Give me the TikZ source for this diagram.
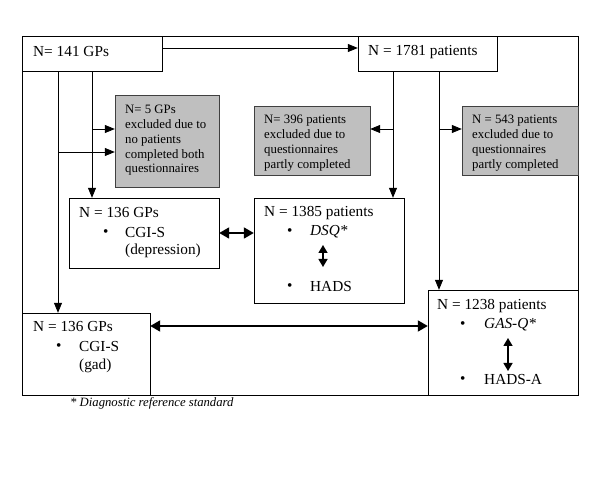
\documentclass[tikz,border=0pt]{standalone}
\usepackage{fontspec}
\setmainfont{Liberation Serif}
\usetikzlibrary{arrows.meta,calc}
\begin{document}
\begin{tikzpicture}[x=1pt,y=-1pt,
  box/.style={draw=black,line width=0.8pt,fill=white},
  greybox/.style={draw=black!75,line width=0.8pt,fill=black!25},
  mtxt/.style={anchor=west,inner sep=0pt,font=\fontsize{15.3}{18.5}\selectfont},
  gtxt/.style={anchor=north west,inner sep=0pt,align=left,font=\fontsize{12.8}{14.8}\selectfont},
  conn/.style={line width=0.8pt,-{Triangle[length=10pt,width=8pt]}},
  dbl/.style={line width=1.8pt,{Triangle[length=10pt,width=11pt]}-{Triangle[length=10pt,width=11pt]}},
  inner/.style={line width=1.4pt,{Triangle[length=8pt,width=9pt]}-{Triangle[length=8pt,width=9pt]}}]
\useasboundingbox (0,0) rectangle (600,478);
\fill[white] (0,0) rectangle (600,478);
% outer frame
\draw[line width=0.8pt] (22,36) rectangle (578,395);
% boxes
\draw[box] (22,36) rectangle (162,71);
\node[inner sep=0,minimum width=140pt,minimum height=35pt] (gps) at (92,53.5) {};
\node[mtxt] (gpst) at (33,52) {N= 141 GPs};
\draw[box] (358,36) rectangle (497,71);
\node[inner sep=0,minimum width=139pt,minimum height=35pt] (pat) at (427.5,53.5) {};
\node[mtxt] (patt) at (368,52) {N = 1781 patients};
% grey boxes
\draw[greybox] (115,95) rectangle (219,187);
\node[inner sep=0,minimum width=104pt,minimum height=92pt] (ex5) at (167,141) {};
\node[gtxt] (ex5t) at (125,105) {N= 5 GPs\\excluded due to\\no patients\\completed both\\questionnaires};
\draw[greybox] (254,106) rectangle (370,175);
\node[inner sep=0,minimum width=116pt,minimum height=69pt] (ex396) at (312,140.5) {};
\node[gtxt] (ex396t) at (264,115) {N= 396 patients\\excluded due to\\questionnaires\\partly completed};
\draw[greybox] (462,106) rectangle (578,175);
\node[inner sep=0,minimum width=116pt,minimum height=69pt] (ex543) at (520,140.5) {};
\node[gtxt] (ex543t) at (472,115) {N = 543 patients\\excluded due to\\questionnaires\\partly completed};
% middle boxes
\draw[box] (69,198) rectangle (219,268);
\node[inner sep=0,minimum width=150pt,minimum height=70pt] (dep) at (144,233) {};
\node[mtxt] (dept1) at (79,213) {N = 136 GPs};
\node[mtxt] (depb) at (103,233) {\textbullet};
\node[mtxt] (dept2) at (125,233) {CGI-S};
\node[mtxt] (dept3) at (125,251) {(depression)};
\draw[box] (254,198) rectangle (404,303);
\node[inner sep=0,minimum width=150pt,minimum height=105pt] (p1385) at (329,250.5) {};
\node[mtxt] (p1385t) at (264,213) {N = 1385 patients};
\node[mtxt] (p1385b1) at (287,232) {\textbullet};
\node[mtxt] (p1385t2) at (310,232) {\itshape DSQ*};
\node[mtxt] (p1385b2) at (287,287) {\textbullet};
\node[mtxt] (p1385t3) at (310,287) {HADS};
% bottom boxes
\draw[box] (22,313) rectangle (150,395);
\node[inner sep=0,minimum width=128pt,minimum height=82pt] (gad) at (86,354) {};
\node[mtxt] (gadt1) at (33,327) {N = 136 GPs};
\node[mtxt] (gadb) at (56,347) {\textbullet};
\node[mtxt] (gadt2) at (79,347) {CGI-S};
\node[mtxt] (gadt3) at (79,366) {(gad)};
\draw[box] (428,290) rectangle (578,395);
\node[inner sep=0,minimum width=150pt,minimum height=105pt] (p1238) at (503,342.5) {};
\node[mtxt] (p1238t) at (437,306) {N = 1238 patients};
\node[mtxt] (p1238b1) at (460,325) {\textbullet};
\node[mtxt] (p1238t2) at (484,325) {\itshape GAS-Q*};
\node[mtxt] (p1238b2) at (460,380) {\textbullet};
\node[mtxt] (p1238t3) at (484,380) {HADS-A};
% footnote
\node[anchor=west,inner sep=0pt,font=\fontsize{12.7}{15}\selectfont\itshape] (foot) at (70,403) {* Diagnostic reference standard};
% connectors
\draw[conn] ([yshift=5.5pt]gps.east) -- ([yshift=5.5pt]pat.west);
\coordinate (gA) at (gps.south -| 92,0);
\coordinate (gB) at (gps.south -| 58,0);
\draw[conn] (gA) -- (gA |- dep.north);
\draw[conn] (gB) -- (gB |- gad.north);
\draw[conn] (gA |- 0,129) -- (ex5.west |- 0,129);
\draw[conn] (gB |- 0,152) -- (ex5.west |- 0,152);
\coordinate (pA) at (pat.south -| 393,0);
\coordinate (pB) at (pat.south -| 439,0);
\draw[conn] (pA) -- (pA |- p1385.north);
\draw[conn] (pB) -- (pB |- p1238.north);
\draw[conn] (pA |- 0,129) -- (ex396.east |- 0,129);
\draw[conn] (pB |- 0,129) -- (ex543.west |- 0,129);
\draw[dbl] (dep.east |- 0,233) -- (p1385.west |- 0,233);
\draw[dbl] (gad.east |- 0,326) -- (p1238.west |- 0,326);
\coordinate (i1a) at (323,245);
\coordinate (i1b) at (323,267);
\draw[inner] (i1a) -- (i1b);
\coordinate (i2a) at (508,338);
\coordinate (i2b) at (508,371);
\draw[inner] (i2a) -- (i2b);
\end{tikzpicture}
\end{document}
